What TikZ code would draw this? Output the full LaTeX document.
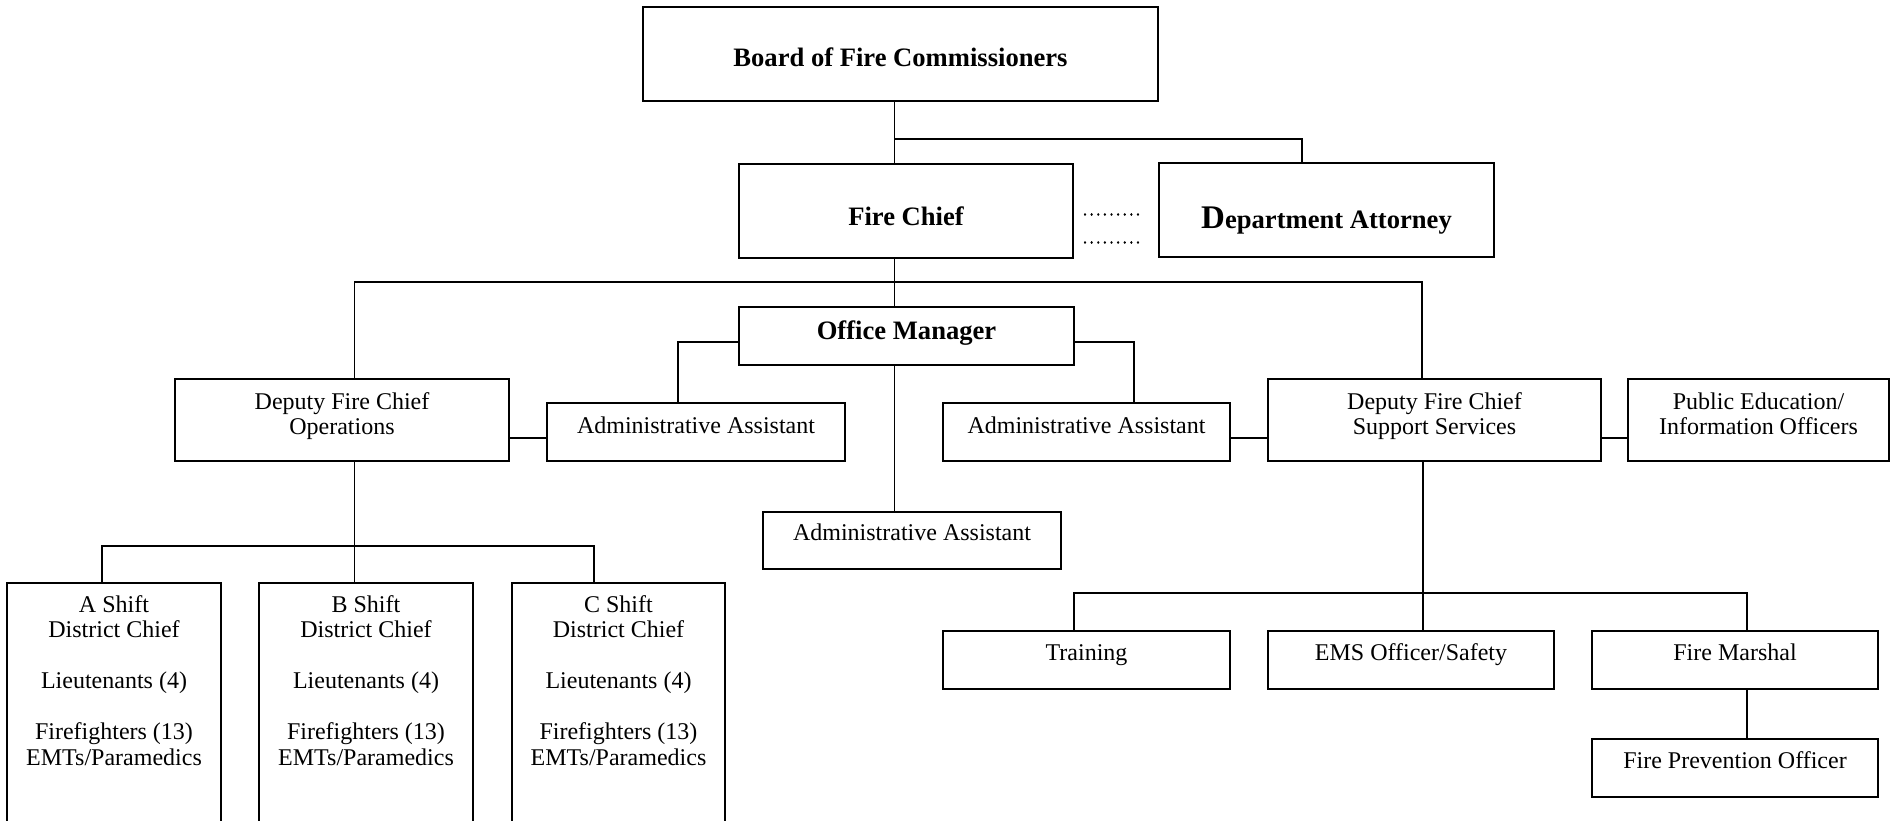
\documentclass[tikz,border=0pt]{standalone}
\usepackage{fontspec}
\setmainfont{Liberation Serif}
\newcommand{\bx}[5]{\node[box, minimum width={(#4-#2)*0.5pt}, minimum height={(#5-#3)*0.5pt}] (#1) at ({(#2+#4)/2},{(#3+#5)/2}) {};}
\begin{document}
\begin{tikzpicture}[x=0.5pt,y=-0.5pt,
  box/.style={draw, line width=1.1pt, inner sep=0pt, outer sep=0pt},
  conn/.style={line width=0.9pt},
  dotline/.style={line width=1.2pt, line cap=round, dash pattern=on 0.01pt off 3.3pt},
  lbl/.style={font=\fontsize{12}{12.75}\selectfont, align=center, inner sep=0pt},
  blbl/.style={font=\fontsize{13.3}{15}\selectfont\bfseries, align=center, inner sep=0pt}]
\useasboundingbox (0,0) rectangle (1899,820);
\fill[white] (0,0) rectangle (1899,820);
\clip (0,0) rectangle (1899,820);

% boxes
\bx{board}{643}{7}{1158}{101}
\bx{chief}{739}{164}{1073}{258}
\bx{attorney}{1159}{163}{1494}{257}
\bx{om}{739}{307}{1074}{365}
\bx{depops}{175}{379}{509}{461}
\bx{aa1}{547}{403}{845}{461}
\bx{aa2}{943}{403}{1230}{461}
\bx{depsup}{1268}{379}{1601}{461}
\bx{pubed}{1628}{379}{1889}{461}
\bx{aa3}{763}{512}{1061}{569}
\bx{shiftA}{7}{583}{221}{860}
\bx{shiftB}{259}{583}{473}{860}
\bx{shiftC}{512}{583}{725}{860}
\bx{training}{943}{631}{1230}{689}
\bx{ems}{1268}{631}{1554}{689}
\bx{marshal}{1592}{631}{1878}{689}
\bx{prev}{1592}{739}{1878}{797}

% labels
\node[blbl] (tboard) at (board.center |- 0,57) {Board of Fire Commissioners};
\node[blbl] (tchief) at (chief.center |- 0,216) {Fire Chief};
\node[blbl] (tatt) at (attorney.center |- 0,221) {{\fontsize{16.5}{16}\selectfont D}epartment Attorney};
\node[blbl] (tom) at (om.center |- 0,333) {Office Manager};
\node[lbl] (tdepops) at (depops.center |- 0,416) {Deputy Fire Chief\\Operations};
\node[lbl] (taa1) at (aa1.center |- 0,425) {Administrative Assistant};
\node[lbl] (taa2) at (aa2.center |- 0,425) {Administrative Assistant};
\node[lbl] (tdepsup) at (depsup.center |- 0,416) {Deputy Fire Chief\\Support Services};
\node[lbl] (tpubed) at (pubed.center |- 0,414) {Public Education/\\Information Officers};
\node[lbl] (taa3) at (aa3.center |- 0,532.5) {Administrative Assistant};
\node[lbl] (tshA) at (shiftA.center |- 0,680.5) {A Shift\\District Chief\\[12.75pt]Lieutenants (4)\\[12.75pt]Firefighters (13)\\EMTs/Paramedics};
\node[lbl] (tshB) at (shiftB.center |- 0,680.5) {B Shift\\District Chief\\[12.75pt]Lieutenants (4)\\[12.75pt]Firefighters (13)\\EMTs/Paramedics};
\node[lbl] (tshC) at (shiftC.center |- 0,680.5) {C Shift\\District Chief\\[12.75pt]Lieutenants (4)\\[12.75pt]Firefighters (13)\\EMTs/Paramedics};
\node[lbl, anchor=base] (ttrain) at (training.center |- 0,660) {Training};
\node[lbl, anchor=base] (tems) at (ems.center |- 0,660) {EMS Officer/Safety};
\node[lbl, anchor=base] (tmarsh) at (marshal.center |- 0,660) {Fire Marshal};
\node[lbl, anchor=base] (tprev) at (prev.center |- 0,768) {Fire Prevention Officer};

% dotted link chief - attorney
\coordinate (d1a) at (1085,214.5); \coordinate (d1b) at (1141,214.5);
\coordinate (d2a) at (1085,242.5); \coordinate (d2b) at (1141,242.5);
\draw[dotline] (d1a) -- (d1b);
\draw[dotline] (d2a) -- (d2b);

% connectors
\coordinate (j1) at (894.5,139);
\coordinate (j1r) at (1302,139);
\draw[conn] (board.south -| j1) -- (chief.north -| j1);
\draw[conn] (j1) -- (j1r) -- (attorney.north -| j1r);

\coordinate (j2) at (894.5,282);
\coordinate (j2l) at (354.5,282);
\coordinate (j2r) at (1422,282);
\draw[conn] (chief.south -| j2) -- (om.north -| j2);
\draw[conn] (depops.north -| j2l) -- (j2l) -- (j2r) -- (depsup.north -| j2r);

\coordinate (j3l) at (678,342);
\coordinate (j3r) at (1134,342);
\draw[conn] (om.west |- j3l) -- (j3l) -- (aa1.north -| j3l);
\draw[conn] (om.east |- j3r) -- (j3r) -- (aa2.north -| j3r);
\draw[conn] (om.south -| j2) -- (aa3.north -| j2);

\coordinate (h1) at (0,438);
\draw[conn] (depops.east |- h1) -- (aa1.west |- h1);
\draw[conn] (aa2.east |- h1) -- (depsup.west |- h1);
\draw[conn] (depsup.east |- h1) -- (pubed.west |- h1);

\coordinate (j4) at (354.5,546);
\coordinate (j4l) at (102,546);
\coordinate (j4r) at (594,546);
\draw[conn] (depops.south -| j4) -- (shiftB.north -| j4);
\draw[conn] (shiftA.north -| j4l) -- (j4l) -- (j4r) -- (shiftC.north -| j4r);

\coordinate (j5) at (1423,593);
\coordinate (j5l) at (1074,593);
\coordinate (j5r) at (1747,593);
\draw[conn] (depsup.south -| j5) -- (ems.north -| j5);
\draw[conn] (training.north -| j5l) -- (j5l) -- (j5r) -- (marshal.north -| j5r);
\draw[conn] (marshal.south -| j5r) -- (prev.north -| j5r);
\end{tikzpicture}
\end{document}
